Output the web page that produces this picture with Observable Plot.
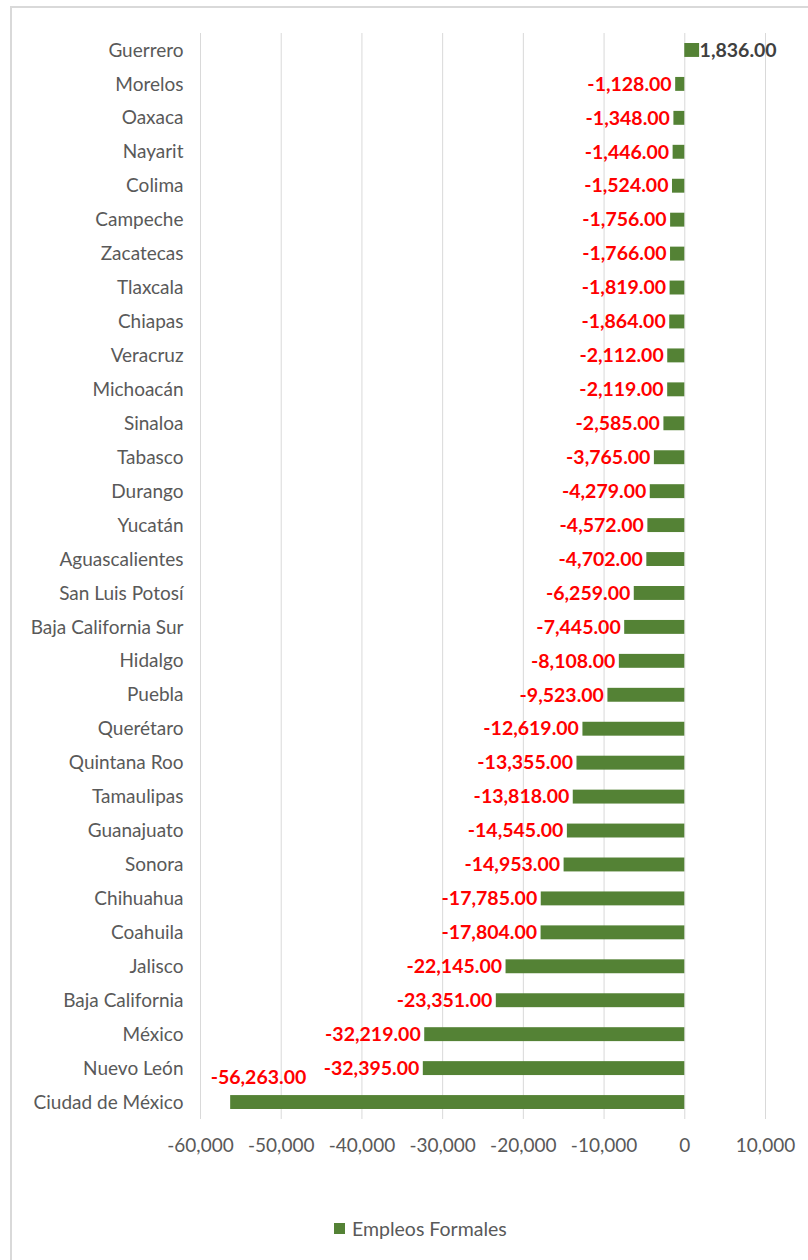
<!DOCTYPE html>
<html>
<head>
<meta charset="utf-8">
<script src="https://cdn.jsdelivr.net/npm/d3@7"></script>
<script src="https://cdn.jsdelivr.net/npm/@observablehq/plot@0.6"></script>
<style>
  html, body { margin: 0; padding: 0; background: #fff; width: 808px; height: 1260px; overflow: hidden; }
  #frame { position: absolute; left: 10px; top: 6px; width: 830px; height: 1300px; border: 2px solid #d9d9d9; box-sizing: border-box; }
  #chart { position: absolute; left: 0; top: 0; }
  #legend { position: absolute; left: 334px; top: 1217px; font-family: Lato, sans-serif; font-size: 19.5px; color: #595959; display: flex; align-items: center; gap: 7px; }
  #legend .sw { width: 11px; height: 11px; background: #548235; }
</style>
</head>
<body>
<div id="frame"></div>
<div id="chart"></div>
<div id="legend"><div class="sw"></div><span>Empleos Formales</span></div>
<script>
const states = ["Guerrero","Morelos","Oaxaca","Nayarit","Colima","Campeche","Zacatecas","Tlaxcala","Chiapas","Veracruz","Michoacán","Sinaloa","Tabasco","Durango","Yucatán","Aguascalientes","San Luis Potosí","Baja California Sur","Hidalgo","Puebla","Querétaro","Quintana Roo","Tamaulipas","Guanajuato","Sonora","Chihuahua","Coahuila","Jalisco","Baja California","México","Nuevo León","Ciudad de México"];
const values = [1836,-1128,-1348,-1446,-1524,-1756,-1766,-1819,-1864,-2112,-2119,-2585,-3765,-4279,-4572,-4702,-6259,-7445,-8108,-9523,-12619,-13355,-13818,-14545,-14953,-17785,-17804,-22145,-23351,-32219,-32395,-56263];
const xTicks = [-60000,-50000,-40000,-30000,-20000,-10000,0,10000];
const seriesName = "Empleos Formales";

const data = states.map((s, i) => ({state: s, value: values[i]}));
const fmtLabel = v => v.toLocaleString("en-US", {minimumFractionDigits: 2, maximumFractionDigits: 2});
const fmtTick = v => v.toLocaleString("en-US");
const lastState = states[states.length - 1];
const neg = data.filter(d => d.value < 0 && d.state !== lastState);
const pos = data.filter(d => d.value >= 0);
const special = data.filter(d => d.state === lastState);

const chart = Plot.plot({
  width: 808,
  height: 1180,
  marginTop: 33,
  marginBottom: 61,
  marginLeft: 200,
  marginRight: 43,
  style: {fontFamily: "Lato, sans-serif", fontSize: "19px", color: "#595959", background: "transparent"},
  x: {domain: [-60000, 10000], ticks: xTicks, tickFormat: fmtTick, label: null},
  y: {domain: states, paddingInner: 0.59, paddingOuter: 0.295, round: false, label: null},
  marks: [
    Plot.gridX(xTicks, {stroke: "#d9d9d9", strokeOpacity: 1, strokeWidth: 1}),
    Plot.barX(data, {x: "value", y: "state", fill: "#548235"}),
    Plot.axisX({ticks: xTicks, tickFormat: fmtTick, tickSize: 0, tickPadding: 19, fontSize: 19, fill: "#595959", label: null}),
    Plot.axisY({tickSize: 0, tickPadding: 17, fontSize: 19, fill: "#595959", label: null}),
    Plot.text(neg, {x: "value", y: "state", text: d => fmtLabel(d.value), textAnchor: "end", dx: -4, fill: "#ff0000", fontWeight: "bold", fontSize: 19.5}),
    Plot.text(pos, {x: "value", y: "state", text: d => fmtLabel(d.value), textAnchor: "start", dx: 0, fill: "#404040", fontWeight: "bold", fontSize: 19.5}),
    Plot.text(special, {x: "value", y: "state", text: d => fmtLabel(d.value), textAnchor: "start", dx: -20, dy: -25, fill: "#ff0000", fontWeight: "bold", fontSize: 19.5})
  ]
});
document.getElementById("chart").appendChild(chart);
</script>
</body>
</html>
